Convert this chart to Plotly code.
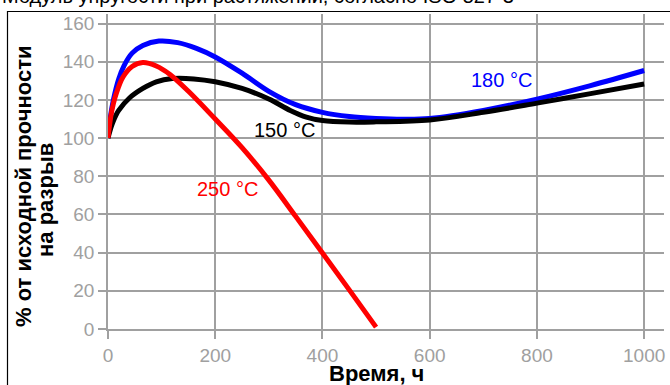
import plotly.graph_objects as go

# Время выдержки, ч и прочность на разрыв, % от исходной
t_180 = [0, 5, 10, 20, 30, 45, 65, 95, 130, 165, 200, 250, 300, 350, 400, 450, 500, 550, 600, 700, 800, 900, 1000]
v_180 = [100, 112, 120, 131, 138, 144.5, 148.5, 150.8, 150, 147, 142.5, 134, 124.5, 117.5, 113.5, 111.3, 110.3, 109.9, 110.3, 114.5, 120.4, 127.5, 135.4]

t_150 = [0, 5, 10, 20, 40, 65, 90, 120, 160, 200, 250, 300, 340, 370, 400, 450, 500, 600, 700, 800, 900, 1000]
v_150 = [100, 105, 109, 114.5, 121, 126, 129.5, 131.2, 131, 129.5, 126, 120.5, 114.5, 111, 109.2, 108.4, 108.5, 109.5, 113.5, 118.3, 123.3, 128.3]

t_250 = [0, 5, 10, 15, 28, 45, 65, 90, 115, 150, 200, 250, 300, 350, 400, 450, 500]
v_250 = [100, 111, 118, 123, 132, 137.5, 139.6, 137.8, 133.5, 124.5, 110, 95, 78, 59, 39.8, 20.5, 1]

x_ticks = [0, 200, 400, 600, 800, 1000]
y_ticks = [0, 20, 40, 60, 80, 100, 120, 140, 160]

series = [
    ("180 °C", t_180, v_180, "#0000FF", 734, 130.5),
    ("150 °C", t_150, v_150, "#000000", 330, 104.3),
    ("250 °C", t_250, v_250, "#FF0000", 223, 73.4),
]

FONT = "Arial, 'Liberation Sans', sans-serif"
GRID = "#A0A0A0"

fig = go.Figure()
for name, t, v, color, lx, ly in series:
    fig.add_trace(go.Scatter(
        x=t, y=v, mode="lines", name=name,
        line=dict(color=color, width=5, shape="spline", smoothing=1.0),
        showlegend=False,
    ))

annotations = []
for name, t, v, color, lx, ly in series:
    annotations.append(dict(
        x=lx, y=ly, xref="x", yref="y", text=name, showarrow=False,
        font=dict(family=FONT, size=20, color=color),
        xanchor="center", yanchor="middle",
    ))

# Заголовок, ось X и ось Y
annotations += [
    dict(x=-0.1942, y=(329 - 9) / 315, xref="paper", yref="paper",
         text="Модуль упругости при растяжении, согласно ISO 527-3",
         showarrow=False, xanchor="left", yanchor="bottom",
         font=dict(family=FONT, size=20, color="#000000")),
    dict(x=500, y=(329 - 373) / 315, xref="x", yref="paper",
         text="<b>Время, ч</b>", showarrow=False,
         xanchor="center", yanchor="middle",
         font=dict(family=FONT, size=22, color="#000000")),
    dict(x=(23 - 108) / 556, y=(329 - 187) / 315, xref="paper", yref="paper",
         text="<b>% от исходной прочности</b>", showarrow=False, textangle=-90,
         xanchor="center", yanchor="middle",
         font=dict(family=FONT, size=22, color="#000000")),
    dict(x=(45 - 108) / 556, y=(329 - 200) / 315, xref="paper", yref="paper",
         text="<b>на разрыв</b>", showarrow=False, textangle=-90,
         xanchor="center", yanchor="middle",
         font=dict(family=FONT, size=22, color="#000000")),
]

# Рамка вокруг диаграммы
shapes = [
    dict(type="line", xref="paper", yref="paper",
         x0=(7 - 108) / 556, x1=1.2, y0=(329 - 11.5) / 315, y1=(329 - 11.5) / 315,
         line=dict(color="#000000", width=1.2)),
    dict(type="line", xref="paper", yref="paper",
         x0=(7.5 - 108) / 556, x1=(7.5 - 108) / 556, y0=(329 - 11) / 315, y1=-0.3,
         line=dict(color="#000000", width=1.2)),
]

axis_common = dict(
    showgrid=True, gridcolor=GRID, gridwidth=1.5,
    showline=True, linecolor=GRID, linewidth=1.5,
    ticks="outside", ticklen=8, tickcolor=GRID, tickwidth=1.5,
    zeroline=False,
    tickfont=dict(family=FONT, size=19, color="#A0A0A0"),
)

fig.update_layout(
    width=670, height=385,
    margin=dict(l=108, r=6, t=14, b=56),
    paper_bgcolor="white", plot_bgcolor="white",
    xaxis=dict(range=[0, 1037], tickvals=x_ticks, **axis_common),
    yaxis=dict(range=[0, 165], tickvals=y_ticks, **axis_common),
    annotations=annotations,
    shapes=shapes,
)

fig.write_html("out.html")
